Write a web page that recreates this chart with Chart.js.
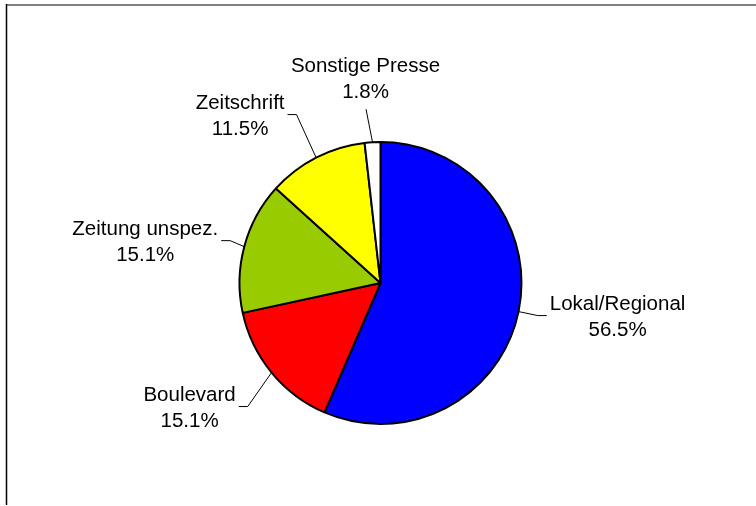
<!DOCTYPE html>
<html>
<head>
<meta charset="utf-8">
<script src="https://cdn.jsdelivr.net/npm/chart.js@4"></script>
<style>
  html, body { margin: 0; padding: 0; background: #fff; }
  #wrap { width: 756px; height: 506px; }
</style>
</head>
<body>
<div id="wrap"><canvas id="myChart" width="756" height="506"></canvas></div>
<script>
const categories = ["Lokal/Regional", "Boulevard", "Zeitung unspez.", "Zeitschrift", "Sonstige Presse"];
const shares = [56.5, 15.1, 15.1, 11.5, 1.8];
const sliceColors = ["#0000FF", "#FF0000", "#99CC00", "#FFFF00", "#FFFFFF"];

// where each label block sits, relative to the slice edge point (dx, dy to block middle)
const labelOffsets = [[99, 4], [-82, 34], [-99, -6], [-76, -43], [-7, -64]];

const LABEL_FONT = "20.5px 'Liberation Sans', Arial, sans-serif";
const LINE_GAP = 26;

const framePlugin = {
  id: "frame",
  beforeDraw(chart) {
    const ctx = chart.ctx;
    ctx.save();
    ctx.fillStyle = "#fff";
    ctx.fillRect(0, 0, chart.width, chart.height);
    ctx.strokeStyle = "#808080";
    ctx.lineWidth = 2;
    ctx.beginPath();
    ctx.moveTo(6, 5);
    ctx.lineTo(chart.width, 5);
    ctx.stroke();
    ctx.strokeStyle = "#000";
    ctx.lineWidth = 1.5;
    ctx.beginPath();
    ctx.moveTo(6.5, 4);
    ctx.lineTo(6.5, chart.height - 1);
    ctx.stroke();
    ctx.restore();
  },
};

const pieLabels = {
  id: "pieLabels",
  afterDatasetsDraw(chart) {
    const ctx = chart.ctx;
    const meta = chart.getDatasetMeta(0);
    ctx.save();
    ctx.font = LABEL_FONT;
    ctx.fillStyle = "#000";
    ctx.strokeStyle = "#000";
    ctx.lineWidth = 1;
    ctx.textAlign = "center";
    ctx.textBaseline = "alphabetic";
    meta.data.forEach((arc, i) => {
      const mid = (arc.startAngle + arc.endAngle) / 2;
      const px = arc.x + Math.cos(mid) * arc.outerRadius;
      const py = arc.y + Math.sin(mid) * arc.outerRadius;
      const cx = px + labelOffsets[i][0];
      const cy = py + labelOffsets[i][1];
      const line1 = categories[i];
      const line2 = shares[i].toFixed(1) + "%";
      const w = Math.max(ctx.measureText(line1).width, ctx.measureText(line2).width);
      const base1 = cy - 6;
      const base2 = base1 + LINE_GAP;

      ctx.beginPath();
      ctx.moveTo(px, py);
      if (Math.abs(cx - px) > w / 2) {
        const side = cx > px ? -1 : 1;
        const edge = cx + side * (w / 2 + 3);
        ctx.lineTo(edge + side * 9, cy);
        ctx.lineTo(edge, cy);
      } else {
        ctx.lineTo(cx + 0.5, base2 + 11);
      }
      ctx.stroke();

      ctx.fillText(line1, cx, base1);
      ctx.fillText(line2, cx, base2);
    });
    ctx.restore();
  },
};

new Chart(document.getElementById("myChart").getContext("2d"), {
  type: "pie",
  data: {
    labels: categories,
    datasets: [{
      data: shares,
      backgroundColor: sliceColors,
      borderColor: "#000",
      borderWidth: 2,
    }],
  },
  options: {
    responsive: false,
    animation: false,
    layout: { padding: { left: 238, right: 233, top: 141, bottom: 81 } },
    plugins: {
      legend: { display: false },
      tooltip: { enabled: false },
    },
  },
  plugins: [framePlugin, pieLabels],
});
</script>
</body>
</html>
